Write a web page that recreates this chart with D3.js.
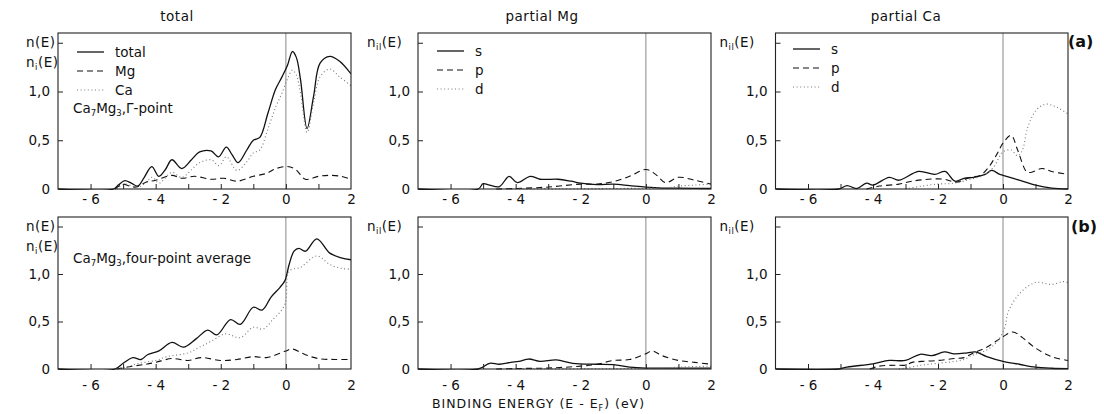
<!DOCTYPE html>
<html><head><meta charset="utf-8">
<script src="https://cdn.jsdelivr.net/npm/d3@7"></script>
<style>body{margin:0;background:#fff} text{font-family:"DejaVu Sans",sans-serif;fill:#111}</style>
</head><body><svg id="c" width="1104" height="414"></svg>
<script>
// ---------- data (E in eV, value in states) ----------
const colTitles = ["total", "partial Mg", "partial Ca"];
const xTicks = [-6, -4, -2, 0, 2];
const xMinorTicks = [-6, -5, -4, -3, -2, -1, 0, 1];
const yTickVals = [0, 0.5, 1.0];
const yTickLabels = ["0", "0,5", "1,0"];
const yInnerTicks = [0.5, 1.0, 1.5];

// (a) Gamma point
const totalA = [[-7,0],[-5.3,0],[-5.15,0.04],[-4.95,0.085],[-4.75,0.06],[-4.55,0.03],[-4.35,0.12],[-4.12,0.23],[-3.9,0.13],[-3.7,0.2],[-3.5,0.3],[-3.2,0.21],[-2.9,0.3],[-2.65,0.38],[-2.3,0.39],[-2.07,0.33],[-1.83,0.43],[-1.65,0.35],[-1.47,0.27],[-1.2,0.4],[-1.0,0.5],[-0.8,0.53],[-0.55,0.78],[-0.32,1.02],[-0.12,1.15],[0.05,1.27],[0.2,1.41],[0.32,1.35],[0.45,1.12],[0.65,0.62],[0.85,0.95],[1.05,1.29],[1.35,1.36],[1.65,1.31],[2.0,1.18]];
const mgA = [[-5.25,0],[-5.0,0.05],[-4.8,0.03],[-4.6,0.02],[-4.3,0.07],[-4.0,0.09],[-3.5,0.14],[-3.2,0.11],[-2.8,0.13],[-2.3,0.1],[-1.9,0.11],[-1.5,0.08],[-1.0,0.13],[-0.6,0.16],[-0.3,0.21],[0.05,0.23],[0.3,0.2],[0.6,0.1],[1.0,0.13],[1.3,0.14],[1.7,0.13],[2.0,0.1]];
const caA = [[-5.2,0],[-4.95,0.05],[-4.6,0.02],[-4.35,0.05],[-4.1,0.12],[-3.9,0.06],[-3.5,0.17],[-3.2,0.12],[-2.65,0.27],[-2.3,0.3],[-2.05,0.24],[-1.83,0.33],[-1.5,0.19],[-1.2,0.28],[-1.0,0.37],[-0.8,0.4],[-0.55,0.62],[-0.3,0.85],[-0.1,1.0],[0.05,1.13],[0.2,1.22],[0.32,1.17],[0.45,0.98],[0.65,0.58],[0.85,0.88],[1.05,1.15],[1.35,1.23],[1.65,1.15],[2.0,1.06]];
const mgSA = [[-7,0],[-5.15,0],[-5.0,0.055],[-4.8,0.04],[-4.5,0.025],[-4.2,0.13],[-3.95,0.065],[-3.55,0.13],[-3.25,0.1],[-2.7,0.1],[-2.3,0.08],[-2.0,0.06],[-1.5,0.045],[-1.0,0.05],[-0.5,0.035],[0,0.02],[0.5,0.01],[1.0,0.008],[2.0,0.005]];
const mgPA = [[-4.6,0],[-4.0,0.005],[-3.0,0.02],[-2.0,0.05],[-1.5,0.05],[-1.0,0.075],[-0.5,0.13],[0,0.2],[0.3,0.15],[0.6,0.065],[1.0,0.12],[1.5,0.09],[2.0,0.05]];
const mgDA = [[-4.0,0],[-1.0,0.005],[0.3,0.01],[0.7,0.015],[1.0,0.03],[1.5,0.04],[2.0,0.05]];
const caSA = [[-7,0],[-5.05,0],[-4.8,0.035],[-4.5,0.005],[-4.2,0.06],[-4.0,0.04],[-3.5,0.12],[-3.2,0.09],[-2.6,0.18],[-2.1,0.15],[-1.78,0.18],[-1.48,0.08],[-1.2,0.11],[-0.9,0.12],[-0.55,0.15],[-0.35,0.19],[-0.1,0.15],[0,0.14],[0.5,0.09],[1.0,0.04],[1.5,0.01],[2.0,0.0]];
const caPA = [[-4.2,0],[-3.8,0.03],[-3.2,0.05],[-2.8,0.08],[-2.3,0.1],[-1.8,0.1],[-1.45,0.07],[-1.0,0.12],[-0.7,0.14],[-0.45,0.22],[-0.2,0.35],[0,0.47],[0.25,0.55],[0.45,0.4],[0.72,0.18],[0.85,0.17],[1.2,0.21],[1.5,0.18],[2.0,0.15]];
const caDA = [[-3.0,0],[-2.5,0.03],[-2.0,0.05],[-1.5,0.06],[-1.0,0.1],[-0.6,0.14],[-0.3,0.22],[0,0.38],[0.25,0.4],[0.45,0.34],[0.6,0.4],[0.75,0.62],[1.0,0.8],[1.3,0.87],[1.65,0.84],[2.0,0.77]];

// (b) four-point average
const totalB = [[-7,0],[-5.25,0],[-5.0,0.06],[-4.7,0.12],[-4.45,0.1],[-4.25,0.15],[-3.9,0.19],[-3.5,0.28],[-3.15,0.23],[-2.75,0.32],[-2.4,0.41],[-2.12,0.36],[-1.7,0.52],[-1.4,0.47],[-1.0,0.65],[-0.73,0.62],[-0.45,0.76],[-0.18,0.86],[-0.03,0.93],[0.1,1.1],[0.25,1.24],[0.4,1.27],[0.6,1.24],[0.95,1.37],[1.35,1.22],[1.7,1.17],[2.0,1.15]];
const mgB = [[-5.2,0],[-4.7,0.03],[-4.3,0.05],[-4.0,0.07],[-3.5,0.11],[-3.0,0.09],[-2.6,0.12],[-2.0,0.09],[-1.5,0.1],[-1.0,0.13],[-0.6,0.12],[-0.3,0.15],[0,0.19],[0.2,0.21],[0.6,0.15],[1.0,0.11],[1.5,0.1],[2.0,0.1]];
const caB = [[-5.2,0],[-4.8,0.03],[-4.5,0.06],[-4.0,0.09],[-3.65,0.13],[-3.0,0.17],[-2.65,0.23],[-2.3,0.29],[-1.85,0.37],[-1.4,0.33],[-1.0,0.44],[-0.7,0.42],[-0.4,0.52],[-0.03,0.68],[0.1,1.03],[0.45,1.07],[0.95,1.19],[1.35,1.1],[1.7,1.06],[2.0,1.05]];
const mgSB = [[-7,0],[-5.15,0],[-4.8,0.06],[-4.5,0.05],[-4.15,0.07],[-3.9,0.08],[-3.6,0.105],[-3.25,0.08],[-2.75,0.095],[-2.25,0.06],[-1.5,0.05],[-1.0,0.045],[-0.5,0.02],[0,0.01],[1.0,0.01],[2.0,0.01]];
const mgPB = [[-4.6,0],[-4.0,0.005],[-3.0,0.01],[-2.0,0.03],[-1.5,0.05],[-1.0,0.09],[-0.5,0.1],[0,0.16],[0.18,0.19],[0.5,0.14],[1.0,0.09],[1.5,0.07],[2.0,0.05]];
const mgDB = [[-4.0,0],[-0.5,0.005],[0.5,0.01],[1.0,0.02],[2.0,0.03]];
const caSB = [[-7,0],[-5.05,0],[-4.8,0.02],[-4.0,0.055],[-3.5,0.09],[-3.0,0.09],[-2.55,0.155],[-2.2,0.14],[-1.8,0.18],[-1.5,0.16],[-1.1,0.17],[-0.85,0.18],[-0.5,0.13],[0,0.08],[0.5,0.05],[1.0,0.02],[1.5,0.008],[2.0,0.003]];
const caPB = [[-4.1,0],[-3.8,0.03],[-3.3,0.04],[-3.0,0.04],[-2.8,0.07],[-2.5,0.08],[-2.0,0.09],[-1.5,0.11],[-1.2,0.12],[-0.9,0.17],[-0.5,0.23],[0,0.34],[0.3,0.39],[0.6,0.33],[1.0,0.22],[1.5,0.13],[2.0,0.09]];
const caDB = [[-3.2,0],[-3.0,0.01],[-2.5,0.04],[-2.0,0.06],[-1.5,0.08],[-1.2,0.1],[-0.9,0.15],[-0.5,0.2],[-0.2,0.28],[0.05,0.43],[0.16,0.6],[0.5,0.79],[1.0,0.91],[1.5,0.89],[1.85,0.92],[2.0,0.91]];

// ---------- layout ----------
const svg = d3.select("#c");
const colPx = [[58, 351], [418, 711], [775.5, 1068]];
const rowPx = [[33, 189], [217, 369]];
const titleX = [177, 542, 906];
const styles = {
  solid: {stroke: "#111", width: 1.3, dash: null},
  dashed: {stroke: "#111", width: 1.1, dash: "6,4"},
  dotted: {stroke: "#777", width: 1.1, dash: "1,2.6"}
};
const panels = [
  {r:0,c:0,series:[[totalA,"solid"],[mgA,"dashed"],[caA,"dotted"]]},
  {r:0,c:1,series:[[mgSA,"solid"],[mgPA,"dashed"],[mgDA,"dotted"]]},
  {r:0,c:2,series:[[caSA,"solid"],[caPA,"dashed"],[caDA,"dotted"]]},
  {r:1,c:0,series:[[totalB,"solid"],[mgB,"dashed"],[caB,"dotted"]]},
  {r:1,c:1,series:[[mgSB,"solid"],[mgPB,"dashed"],[mgDB,"dotted"]]},
  {r:1,c:2,series:[[caSB,"solid"],[caPB,"dashed"],[caDB,"dotted"]]}
];
const fs = 13.5;

panels.forEach((p, i) => {
  const [x0, x1] = colPx[p.c], [yt, yb] = rowPx[p.r];
  const x = d3.scaleLinear([-7, 2], [x0, x1]);
  const y = d3.scaleLinear([0, 1.6], [yb, yt]);
  const g = svg.append("g");
  const cid = "clip" + i;
  g.append("clipPath").attr("id", cid).append("rect")
    .attr("x", x0).attr("y", yt).attr("width", x1 - x0).attr("height", yb - yt + 1);
  g.append("line").attr("x1", x(0)).attr("x2", x(0)).attr("y1", yt).attr("y2", yb)
    .attr("stroke", "#888").attr("stroke-width", 1);
  const line = d3.line().x(d => x(d[0])).y(d => y(d[1])).curve(d3.curveCatmullRom.alpha(0.5));
  p.series.forEach(([data, st]) => {
    const s = styles[st];
    g.append("path").attr("d", line(data)).attr("fill", "none")
      .attr("stroke", s.stroke).attr("stroke-width", s.width)
      .attr("stroke-dasharray", s.dash).attr("clip-path", `url(#${cid})`);
  });
  g.append("rect").attr("x", x0).attr("y", yt).attr("width", x1 - x0).attr("height", yb - yt)
    .attr("fill", "none").attr("stroke", "#222").attr("stroke-width", 1.1);
  const tb = g.append("g").attr("transform", `translate(0,${yb})`)
    .call(d3.axisTop(x).tickValues(xMinorTicks).tickSize(5).tickFormat(""));
  tb.select(".domain").remove();
  const tl = g.append("g").attr("transform", `translate(${x0},0)`)
    .call(d3.axisRight(y).tickValues(yInnerTicks).tickSize(5).tickFormat(""));
  tl.select(".domain").remove();
  g.selectAll(".tick line").attr("stroke", "#222");
  const bl = g.append("g").attr("transform", `translate(0,${yb})`)
    .call(d3.axisBottom(x).tickValues(xTicks).tickSize(0).tickPadding(p.r === 0 ? 5 : 11)
      .tickFormat(d => d < 0 ? "- " + Math.abs(d) : String(d)));
  bl.select(".domain").remove();
  bl.selectAll("text").style("font-size", fs + "px").attr("fill", "#111").style("font-family", "DejaVu Sans");
  const ll = g.append("g").attr("transform", `translate(${x0},0)`)
    .call(d3.axisLeft(y).tickValues(yTickVals).tickSize(0).tickPadding(8)
      .tickFormat((d, k) => yTickLabels[k]));
  ll.select(".domain").remove();
  ll.selectAll("text").style("font-size", fs + "px").attr("fill", "#111").style("font-family", "DejaVu Sans");

  const lx = x0 - (p.c === 0 ? 32 : (p.c === 1 ? 51 : 56));
  const ly = yt + 14;
  if (p.c === 0) {
    g.append("text").attr("x", lx).attr("y", ly).style("font-size", fs + "px").style("letter-spacing", "0.5px").text("n(E)");
    const t = g.append("text").attr("x", lx).attr("y", ly + 20).style("font-size", fs + "px").style("letter-spacing", "0.5px");
    t.append("tspan").text("n");
    t.append("tspan").attr("dy", 3).style("font-size", "8.5px").text("i");
    t.append("tspan").attr("dy", -3).text("(E)");
  } else {
    const t = g.append("text").attr("x", lx).attr("y", ly).style("font-size", fs + "px").style("letter-spacing", "0.5px");
    t.append("tspan").text("n");
    t.append("tspan").attr("dy", 3).style("font-size", "8.5px").text("il");
    t.append("tspan").attr("dy", -3).text("(E)");
  }
  if (p.r === 0) {
    svg.append("text").attr("x", titleX[p.c]).attr("y", 21).attr("text-anchor", "middle")
      .style("font-size", fs + "px").style("letter-spacing", "0.5px").text(colTitles[p.c]);
  }
});

function legend(x0, items, ys) {
  items.forEach((it, k) => {
    const s = styles[it[1]];
    svg.append("line").attr("x1", x0).attr("x2", x0 + 27).attr("y1", ys[k]).attr("y2", ys[k])
      .attr("stroke", s.stroke).attr("stroke-width", s.width).attr("stroke-dasharray", s.dash);
    svg.append("text").attr("x", x0 + 38).attr("y", ys[k] + 5).style("font-size", fs + "px").text(it[0]);
  });
}
legend(77, [["total","solid"],["Mg","dashed"],["Ca","dotted"]], [52, 71, 90]);
legend(437, [["s","solid"],["p","dashed"],["d","dotted"]], [51, 70, 89]);
legend(793, [["s","solid"],["p","dashed"],["d","dotted"]], [49, 68, 87]);

function compoundLabel(x, yy, tail) {
  const t = svg.append("text").attr("x", x).attr("y", yy).style("font-size", fs + "px");
  t.append("tspan").text("Ca");
  t.append("tspan").attr("dy", 3).style("font-size", "8.5px").text("7");
  t.append("tspan").attr("dy", -3).text("Mg");
  t.append("tspan").attr("dy", 3).style("font-size", "8.5px").text("3");
  t.append("tspan").attr("dy", -3).text(tail);
}
compoundLabel(73, 113, ",Γ-point");
compoundLabel(73, 263, ",four-point average");

svg.append("text").attr("x", 1068).attr("y", 47).style("font-size", "16px").style("font-weight", "bold").text("(a)");
svg.append("text").attr("x", 1071).attr("y", 232).style("font-size", "16px").style("font-weight", "bold").text("(b)");

const ax = svg.append("text").attr("x", 432).attr("y", 408).style("font-size", "12.5px").style("letter-spacing", "1px");
ax.append("tspan").text("BINDING ENERGY  (E - E");
ax.append("tspan").attr("dy", 3).style("font-size", "8px").text("F");
ax.append("tspan").attr("dy", -3).text(")   (eV)");
</script></body></html>
